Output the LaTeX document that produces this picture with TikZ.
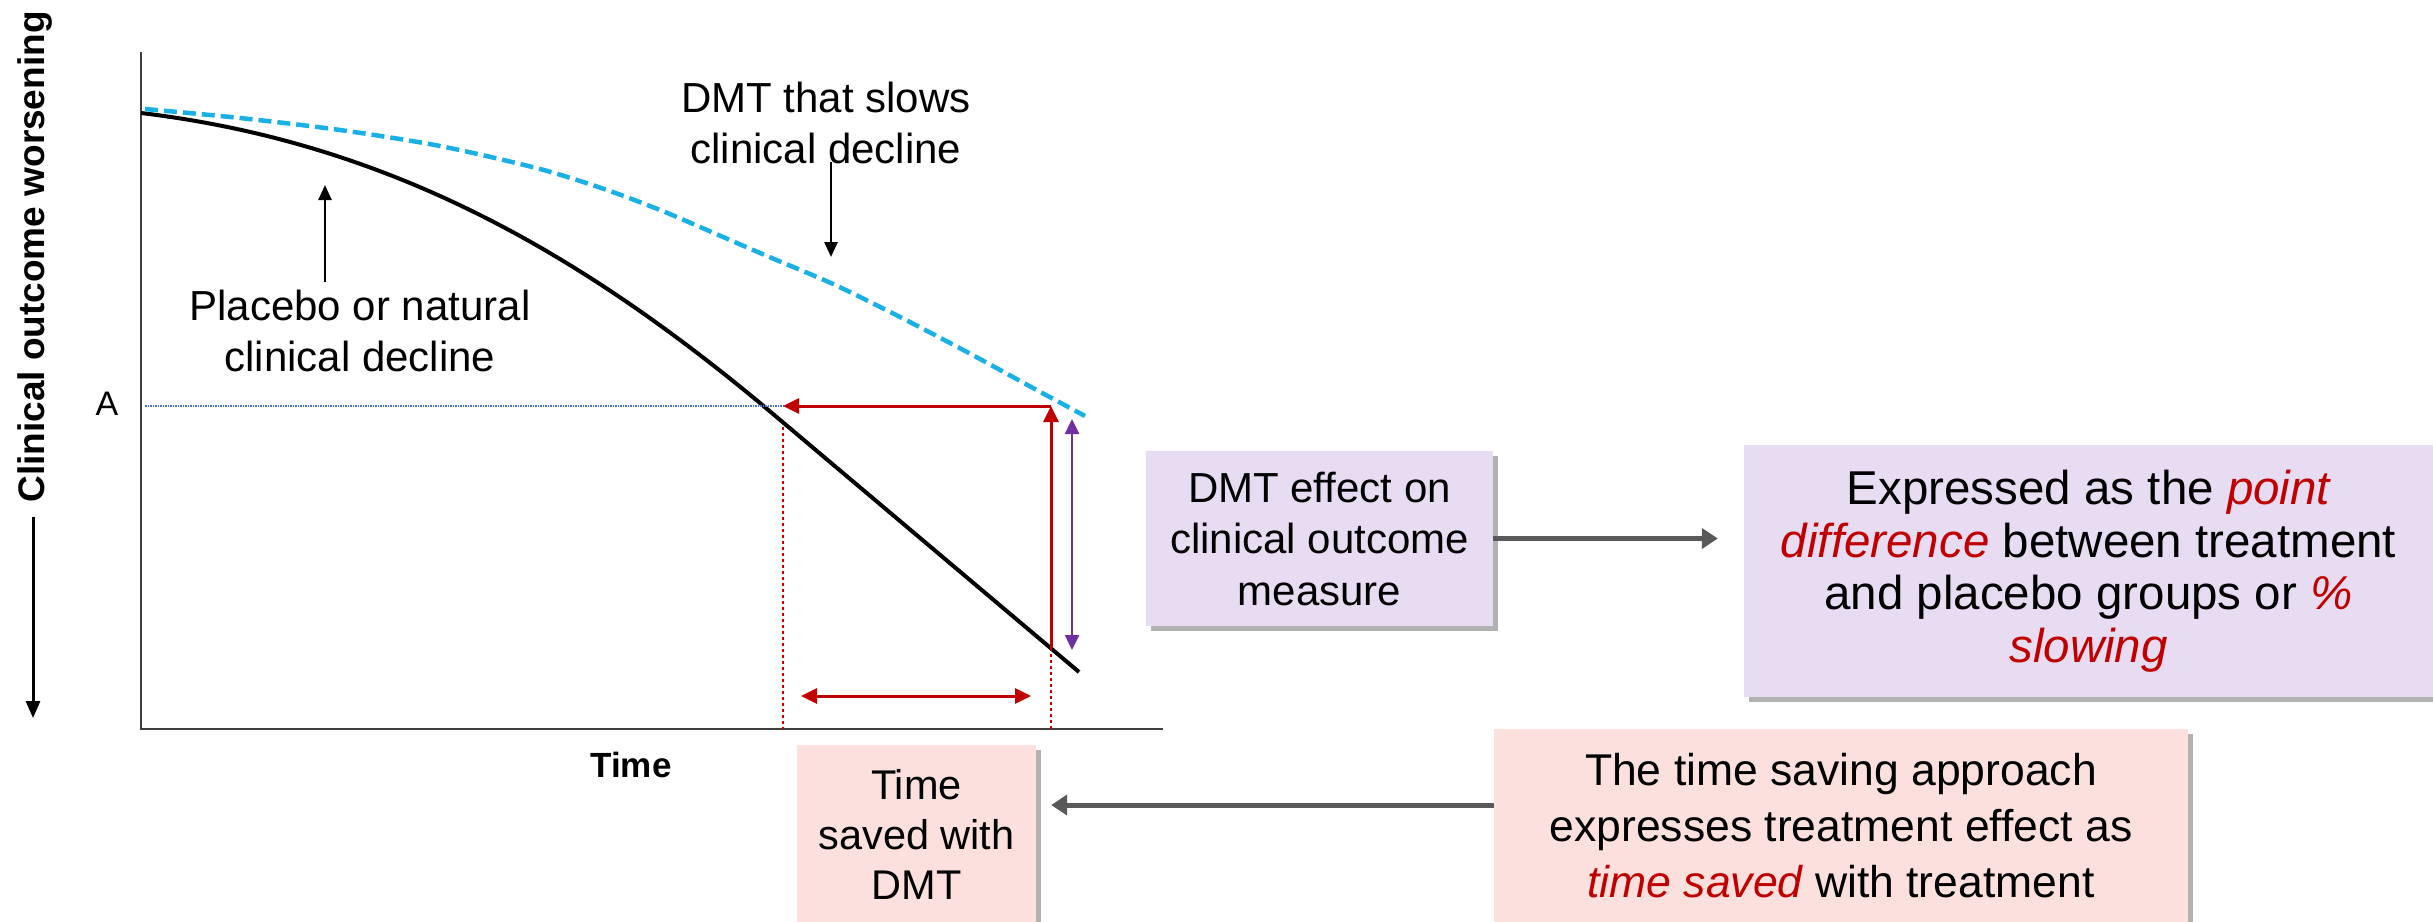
\documentclass[tikz,border=0pt]{standalone}
\usepackage{fontspec}
\setmainfont{Liberation Sans}
\usetikzlibrary{arrows.meta,shadows}
\definecolor{boxpurple}{HTML}{E7DCF2}
\definecolor{boxpink}{HTML}{FCE0DE}
\definecolor{dred}{HTML}{C00000}
\definecolor{cyanline}{HTML}{19B0E6}
\definecolor{purplearrow}{HTML}{7030A0}
\definecolor{dotblue}{HTML}{4472C4}
\definecolor{axisgray}{HTML}{404040}
\definecolor{arrowgray}{HTML}{595959}
\newcommand\fsz[2]{\fontsize{#1}{#2}\selectfont}
\newcommand\redit[1]{\textcolor{dred}{\itshape #1}}
\tikzset{
  rtip/.tip={Triangle[length=16pt,width=15pt]},
  ptip/.tip={Triangle[length=15pt,width=14pt]},
}
\begin{document}
\begin{tikzpicture}[x=1pt,y=-1pt,
  infobox/.style={rectangle, align=center, inner sep=0pt,
    drop shadow={shadow xshift=5pt, shadow yshift=-5pt, opacity=0.3, fill=black}},
  lbl/.style={align=center, inner sep=0pt},
  bigarrow/.style={draw=arrowgray, line width=5pt, -{Triangle[length=16pt,width=20pt]}},
  thinarrow/.style={line width=2.5pt, -{Triangle[length=15pt,width=13pt]}},
  redarrow/.style={dred, line width=3pt},
]
\useasboundingbox (0,0) rectangle (2433,921);

% axes
\coordinate (origin) at (141,729);
\coordinate (ytop) at (141,52);
\coordinate (xend) at (1163,729);
\draw[axisgray, line width=2.5pt] (ytop) -- (origin) -- (xend);

% y-axis label and arrow
\node[lbl, rotate=90, font=\bfseries\fsz{37}{44}] (ylab) at (35,257) {Clinical outcome worsening};
\coordinate (yarrS) at (33,517);
\coordinate (yarrE) at (33,718);
\draw[line width=3pt, -{Triangle[length=17pt,width=14pt]}] (yarrS) -- (yarrE);

\node[lbl, font=\fsz{34}{40}] (A) at (107,404) {A};
\node[lbl, font=\bfseries\fsz{35}{42}] (time) at (631,765) {Time};

% curves
\coordinate (bstart) at (141,113);
\coordinate (bmid) at (760,403);
\coordinate (bend) at (1079,672);
\draw[black, line width=4pt] (bstart) .. controls (391,143) and (580,254) .. (bmid) -- (bend);

\draw[cyanline, line width=4.5pt, dash pattern=on 13pt off 6pt]
  plot[smooth] coordinates {(145,109) (240,118) (340,130) (440,146) (540,169) (607,190) (660,210) (700,227) (767,256) (833,284) (900,317) (967,352) (1033,388) (1085,416)};

% A level line and time-saved construction
\coordinate (Aleft) at (145,406);
\coordinate (Across) at (783,406);
\coordinate (Adrug) at (1051,406);
\coordinate (Pbottom) at (1051,648);
\coordinate (crossLow) at (783,427);
\coordinate (axisL) at (783,729);
\coordinate (axisR) at (1051,729);
\draw[dotblue, line width=1.5pt, densely dotted] (Aleft) -- (Across);
\draw[dred, line width=1.2pt, dashed] (crossLow) -- (axisL);
\draw[dred, line width=1.2pt, dashed] (Pbottom) -- (axisR);
\draw[redarrow, -{rtip}] (Pbottom) -- (Adrug);
\draw[redarrow, -{rtip}] (Adrug) -- (Across);
\coordinate (tsL) at (801,696);
\coordinate (tsR) at (1031,696);
\draw[redarrow, {rtip}-{rtip}] (tsL) -- (tsR);
\coordinate (pdTop) at (1072,419);
\coordinate (pdBot) at (1072,650);
\draw[purplearrow, line width=2.5pt, {ptip}-{ptip}] (pdTop) -- (pdBot);

% curve labels
\node[lbl, font=\fsz{42}{51}] (placebo) at (360,331) {Placebo or natural\\clinical decline};
\coordinate (pbS) at (325,282);
\coordinate (pbE) at (325,185);
\draw[thinarrow] (pbS) -- (pbE);

\node[lbl, font=\fsz{42}{51}] (dmt) at (826,123) {DMT that slows\\clinical decline};
\coordinate (dmS) at (831,162);
\coordinate (dmE) at (831,257);
\draw[thinarrow] (dmS) -- (dmE);

% boxes
\node[infobox, fill=boxpurple, minimum width=347pt, minimum height=175pt, font=\fsz{42}{51.5}]
  (effect) at (1319.5,538.5) {DMT effect on\\clinical outcome\\measure};
\node[infobox, fill=boxpurple, minimum width=689pt, minimum height=252pt, font=\fsz{47.5}{52.5}]
  (point) at (2088.5,571) {Expressed as the \redit{point}\\\redit{difference} between treatment\\and placebo groups or \redit{\%}\\\redit{slowing}};
\node[infobox, fill=boxpink, minimum width=239pt, minimum height=178pt, font=\fsz{41.5}{50}]
  (saved) at (916.5,834) {Time\\saved with\\DMT};
\node[infobox, fill=boxpink, minimum width=694pt, minimum height=194pt, font=\fsz{44.5}{56}]
  (approach) at (1841,826) {The time saving approach\\expresses treatment effect as\\\redit{time saved} with treatment};

\draw[bigarrow] (effect.east) -- ([xshift=-26pt]point.west |- effect.east);
\draw[bigarrow] (approach.west |- 0,805) -- ([xshift=15pt]saved.east |- 0,805);
\end{tikzpicture}
\end{document}
